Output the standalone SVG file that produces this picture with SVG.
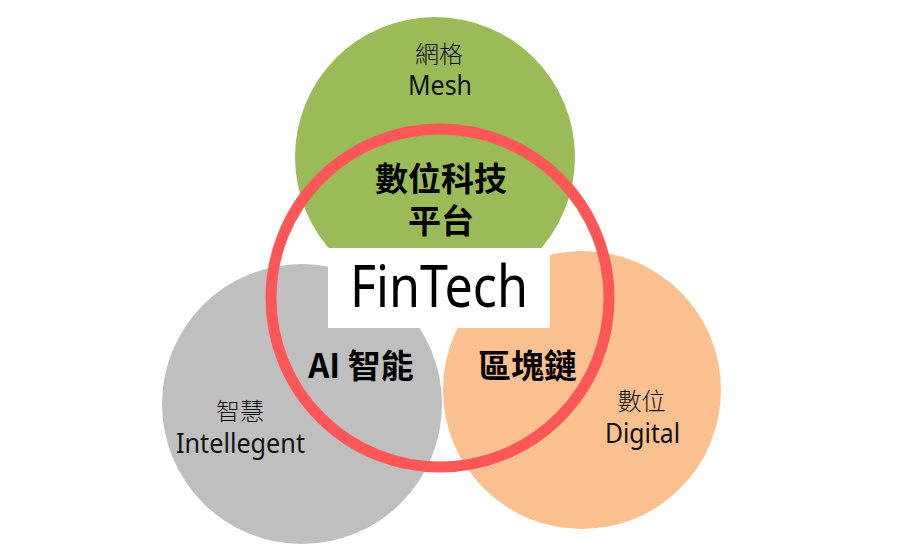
<svg xmlns="http://www.w3.org/2000/svg" width="914" height="556" viewBox="0 0 914 556">
<style>
.sub{font-family:"Noto Sans","Noto Sans CJK TC",sans-serif;font-size:28px;fill:#111;text-anchor:middle}
.cjk{font-family:"Noto Sans CJK TC",sans-serif;font-size:24px;font-weight:300;fill:#111;text-anchor:middle}
.big{font-family:"Noto Sans CJK TC",sans-serif;font-size:33px;font-weight:bold;fill:#000;text-anchor:middle}
</style>
<rect width="914" height="556" fill="#fff"/>
<g id="mesh">
<circle cx="435" cy="157" r="140" fill="#9BBB59"/>
</g>
<g id="intelligent">
<circle cx="302" cy="404" r="140" fill="#BFBFBF"/>
</g>
<g id="digital">
<circle cx="582" cy="390" r="139" fill="#FAC090"/>
</g>
<g id="fintech">
<rect x="328" y="248" width="222" height="80" fill="#fff"/>
<circle cx="440" cy="298" r="169" fill="none" stroke="#FF5757" stroke-width="11"/>
<text x="439" y="307" font-family="'Noto Sans','Open Sans',sans-serif" font-size="58" text-anchor="middle" textLength="178" lengthAdjust="spacingAndGlyphs" fill="#000">FinTech</text>
</g>
<g id="labels-mesh">
<text class="cjk" x="439" y="63">網格</text>
<text class="sub" x="440" y="95" textLength="64" lengthAdjust="spacingAndGlyphs">Mesh</text>
<text class="big" x="441" y="191">數位科技</text>
<text class="big" x="441" y="233">平台</text>
</g>
<g id="labels-intelligent">
<text class="cjk" x="240" y="420">智慧</text>
<text class="sub" x="240.5" y="453" textLength="129" lengthAdjust="spacingAndGlyphs">Intellegent</text>
<text class="big" x="361" y="378" font-size="32">AI 智能</text>
</g>
<g id="labels-digital">
<text class="cjk" x="641.5" y="410">數位</text>
<text class="sub" x="642.5" y="443" textLength="75" lengthAdjust="spacingAndGlyphs">Digital</text>
<text class="big" x="527.5" y="378">區塊鏈</text>
</g>
</svg>
